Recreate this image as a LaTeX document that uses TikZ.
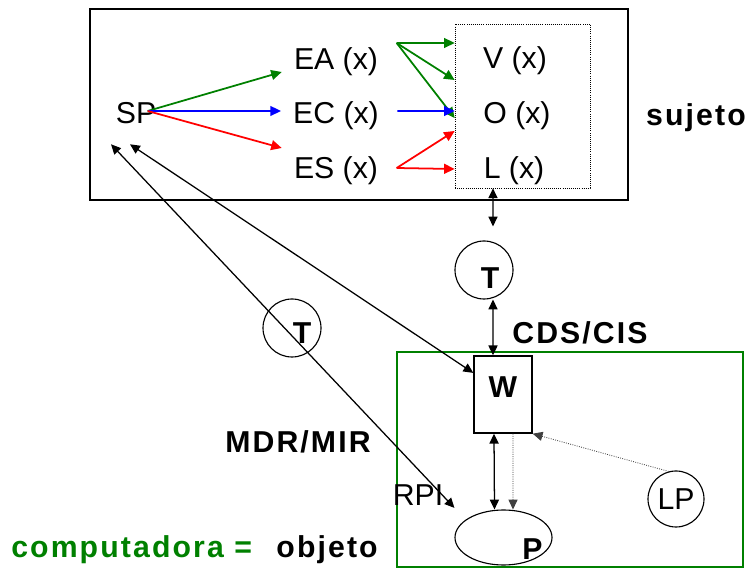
\documentclass[tikz,border=0pt]{standalone}
\usepackage{fontspec}
\setmainfont{Liberation Sans}
\usepackage{tikz}
\usetikzlibrary{arrows.meta,positioning,shapes.geometric}
\definecolor{verde}{RGB}{0,128,0}

\begin{document}
\begin{tikzpicture}[x=1cm,y=1cm,
  txt/.style={inner sep=0pt, text height=0.55cm, text depth=0pt, font=\fontsize{21.5}{26}\selectfont},
  bld/.style={txt, font=\fontsize{21.5}{26}\selectfont\bfseries\addfontfeature{LetterSpace=7}},
  circ/.style={draw, circle, line width=0.8pt, minimum size=1.45cm, inner sep=0pt},
  arr/.style={{Triangle[length=7pt,width=6.5pt]}-{Triangle[length=7pt,width=6.5pt]}, line width=0.9pt},
  dotarr/.style={-{Triangle[length=7pt,width=6.5pt]}, densely dotted, line width=0.6pt, black!75},
  garr/.style={-{Triangle[length=7.5pt,width=7pt]}, line width=1.25pt, verde},
  barr/.style={-{Triangle[length=7.5pt,width=7pt]}, line width=1.25pt, blue},
  rarr/.style={-{Triangle[length=7.5pt,width=7pt]}, line width=1.25pt, red}
]
\useasboundingbox (0,0) rectangle (18.725,14.225);

% sujeto
\node[draw, line width=1.6pt, minimum width=13.45cm, minimum height=4.775cm] (sujbox) at (8.975,11.6125) {};
\node[draw, densely dotted, line width=0.5pt, minimum width=3.375cm, minimum height=4.1cm] (estados) at (13.0625,11.575) {};
\node[txt] (SP) at (3.4,11.4)  {SP};
\node[txt] (EA) at (8.4,12.75)   {EA (x)};
\node[txt] (EC) at (8.4,11.4)    {EC (x)};
\node[txt] (ES) at (8.4,10.025)  {ES (x)};
\node[txt] (V)  at (12.875,12.775) {V (x)};
\node[txt] (O)  at (12.925,11.4)   {O (x)};
\node[txt] (L)  at (12.85,10.025)  {L (x)};
\node[bld] (sujeto) at (17.4,11.35) {sujeto};

\coordinate (spout) at ([shift={(-0.22,0.05)}]SP.east);
\coordinate (eaout) at ([shift={(0.46,0.4)}]EA.east);
\coordinate (esout) at ([shift={(0.46,0)}]ES.east);
\draw[garr] (spout) -- ([shift={(-0.3,-0.325)}]EA.west);
\draw[barr] (spout) -- ([shift={(-0.3,0.05)}]EC.west);
\draw[rarr] (spout) -- ([shift={(-0.3,0.5)}]ES.west);
\draw[garr] (eaout) -- ([yshift=1.575cm]estados.west);
\draw[garr] (eaout) -- ([yshift=0.65cm]estados.west);
\draw[garr] (eaout) -- ([yshift=-0.3cm]estados.west);
\draw[barr] ([shift={(0.46,0.05)}]EC.east) -- ([yshift=-0.125cm]estados.west);
\draw[rarr] (esout) -- ([yshift=-0.625cm]estados.west);
\draw[rarr] (esout) -- ([yshift=-1.575cm]estados.west);

% objeto
\node[circ] (T1) at (12.1,7.475) {};
\node[bld] (T1t) at ([shift={(0.15,-0.2)}]T1) {T};
\node[bld] (cds) at (14.5,5.9) {CDS/CIS};
\node[draw=verde, line width=0.8pt, minimum width=8.65cm, minimum height=5.375cm] (compu) at (14.25,2.7375) {};
\node[draw, bld, line width=1pt, minimum width=1.45cm, minimum height=1.925cm, text depth=0.38cm] (W) at (12.575,4.3625) {W};
\node[draw, ellipse, line width=0.8pt, minimum width=2.425cm, minimum height=1.375cm, inner sep=0pt] (P) at (12.5875,0.7875) {};
\node[bld] (Pt) at ([shift={(0.725,-0.275)}]P.center) {P};
\node[circ, txt, minimum size=1.4cm] (LP) at (16.9,1.75) {LP};
\node[circ] (T2) at (7.3,6.025) {};
\node[bld] (T2t) at ([shift={(0.25,-0.125)}]T2) {T};
\node[bld] (mdr) at (7.45,3.175) {MDR/MIR};
\node[txt] (RPI) at (10.45,1.85) {RPI};
\node[bld, text=verde, anchor=base west] (comp) at (0.275,0.275) {computadora =};
\node[bld, anchor=base east] (obj) at (9.45,0.275) {objeto};

\draw[arr] ([xshift=-0.7375cm]estados.south) -- ([shift={(0.225,0.35)}]T1.north);
\draw[arr] ([xshift=0.225cm]T1.south) -- ([xshift=-0.25cm]W.north);
\draw[arr] ([xshift=-0.225cm]W.south) -- ([xshift=-0.225cm]P.north);
\draw[dotarr] ([xshift=0.25cm]W.south) -- ([xshift=0.2375cm]P.north);
\draw[dotarr] (LP.105) -- (W.south east);
\draw[arr] ([shift={(-0.625,-0.5)}]SP.south) -- ([yshift=0.74cm]P.west);
\draw[arr] ([shift={(-0.15,-0.5)}]SP.south) -- ([yshift=0.54cm]W.west);
\end{tikzpicture}
\end{document}
